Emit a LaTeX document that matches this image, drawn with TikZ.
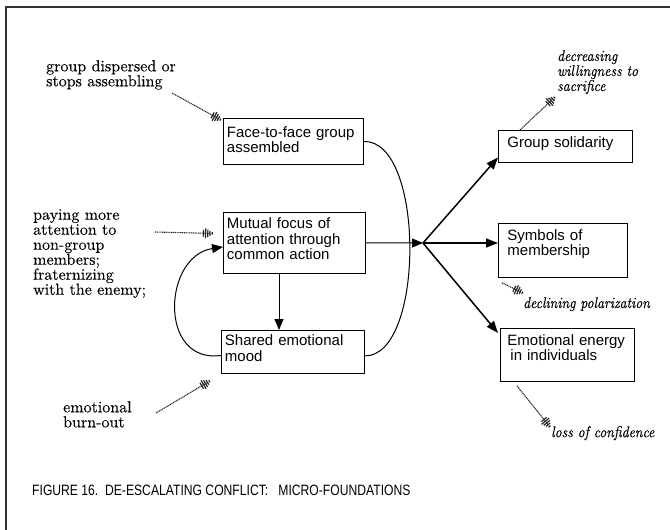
\documentclass[tikz,border=0pt]{standalone}
\usepackage{fontspec}
\setsansfont{Liberation Sans}
\newfontfamily\capfont[FakeStretch=0.81]{Liberation Sans}
\newfontfamily\notefont{lmroman10-regular.otf}[FakeBold=0.15]
\newfontfamily\inotefont{lmroman10-italic.otf}[FakeBold=0.15, FakeStretch=0.88]
\usetikzlibrary{arrows.meta}

% hatched arrow head used on the dotted "counter-force" arrows
\pgfdeclarearrow{
  name = Hatch,
  setup code = {
    \pgfarrowssettipend{0pt}
    \pgfarrowssetlineend{-3pt}
    \pgfarrowssetbackend{-11pt}
    \pgfarrowshullpoint{0pt}{0pt}
    \pgfarrowshullpoint{-11pt}{5.5pt}
    \pgfarrowshullpoint{-11pt}{-5.5pt}
  },
  drawing code = {
    \pgfsetdash{}{0pt}
    \pgfsetbuttcap
    \pgfsetlinewidth{1.2pt}
    \pgfpathmoveto{\pgfqpoint{-0.8pt}{-1.2pt}}\pgfpathlineto{\pgfqpoint{-0.8pt}{1.2pt}}
    \pgfpathmoveto{\pgfqpoint{-3.0pt}{-2.6pt}}\pgfpathlineto{\pgfqpoint{-3.0pt}{2.6pt}}
    \pgfpathmoveto{\pgfqpoint{-5.2pt}{-3.9pt}}\pgfpathlineto{\pgfqpoint{-5.2pt}{3.9pt}}
    \pgfpathmoveto{\pgfqpoint{-7.4pt}{-5.0pt}}\pgfpathlineto{\pgfqpoint{-7.4pt}{5.0pt}}
    \pgfpathmoveto{\pgfqpoint{-9.6pt}{-3.4pt}}\pgfpathlineto{\pgfqpoint{-9.6pt}{3.4pt}}
    \pgfusepathqstroke
  }
}

\begin{document}
\begin{tikzpicture}[x=1pt,y=-1pt,
  box/.style={draw, line width=0.9pt, anchor=north west, inner ysep=0pt,
    align=left, font=\sffamily\fontsize{15}{15.5}\selectfont},
  note/.style={anchor=north west, inner sep=0pt, align=left,
    font=\notefont\fontsize{16}{15}\selectfont},
  inote/.style={note, font=\inotefont\fontsize{15.5}{15}\selectfont},
  flow/.style={line width=1pt, -{Triangle[length=11pt,width=9pt]}},
  outarrow/.style={line width=1.5pt, -{Triangle[length=12pt,width=9pt]}},
  damp/.style={line width=1.1pt, black!85, dash pattern=on 1.1pt off 0.7pt, -{Hatch}},
  thinline/.style={line width=1pt}
]
\useasboundingbox (0,0) rectangle (670,530);

% frame
\draw[line width=1.2pt, black!80] (6,530) -- (6,7) -- (670,7);

% core process boxes
\node[box, inner xsep=3.5pt, text width=133pt, text height=19pt, text depth=27pt]
  (ff) at (223,118) {Face-to-face group\\assembled};
\node[box, inner xsep=3.5pt, text width=135pt, text height=16.5pt, text depth=44.5pt]
  (mf) at (223,212) {Mutual focus of\\attention through\\common action};
\node[box, inner xsep=3.5pt, text width=136pt, text height=15.5pt, text depth=27.5pt]
  (sm) at (221,330) {Shared emotional\\mood};

% outcome boxes
\node[box, inner xsep=9pt, text width=116pt, text height=17pt, text depth=15pt]
  (gs) at (498,130) {Group solidarity};
\node[box, inner xsep=9pt, text width=111pt, text height=17pt, text depth=37pt]
  (sy) at (498,223) {Symbols of\\membership};
\node[box, inner xsep=7pt, text width=120pt, text height=17pt, text depth=36pt]
  (ee) at (500,328) {Emotional energy\\\hspace*{3pt}in individuals};

% junction
\coordinate (J) at (423,243);

% process connectors
\draw[flow] ([xshift=56pt]mf.south west) -- ([xshift=58pt]sm.north west);
\draw[flow] ([yshift=-3.5pt]sm.west) .. controls (158,364) and (163,256) .. ([yshift=-4pt]mf.west);
\draw[thinline] (ff.east) .. controls (425,140) and (425,356) .. ([yshift=-4pt]sm.east);
\draw[flow] (mf.east) -- (J);

% outcomes
\draw[outarrow] (J) -- ([yshift=-11pt]gs.west);
\draw[outarrow] (J) -- (J -| sy.west);
\draw[outarrow] (J) -- ([xshift=-2pt,yshift=-5pt]ee.north west);

% counter-forces
\node[note] (gd) at (46,60) {group dispersed or\\stops assembling};
\node[note] (pa) at (33,209) {paying more\\attention to\\non-group\\members;\\fraternizing\\with the enemy;};
\node[note] (eb) at (63,401) {emotional\\burn-out};
\node[inote] (dw) at (557,50) {decreasing\\willingness to\\sacrifice};
\node[inote] (dp) at (523,297) {declining polarization};
\node[inote] (lc) at (551,426) {loss of confidence};

\coordinate (a1) at (172,93);
\coordinate (a2) at (155,232);
\coordinate (a3) at (156,413);
\coordinate (b1) at (555,97);
\coordinate (b2) at (523,293);
\coordinate (b3) at (550,427);

\draw[damp] (a1) -- ([xshift=-2pt,yshift=-2pt]ff.north west);
\draw[damp] (a2) -- ([xshift=-10pt,yshift=9.5pt]mf.west);
\draw[damp] (a3) -- ([xshift=-11pt,yshift=-7pt]sm.south west);
\draw[damp] ([xshift=22pt]gs.north west) -- (b1);
\draw[damp] ([xshift=4pt,yshift=-5pt]sy.south west) -- (b2);
\draw[damp] ([xshift=17pt,yshift=-4pt]ee.south west) -- (b3);

% caption
\node[anchor=west, inner sep=0pt, font=\capfont\fontsize{15}{15}\selectfont]
  (cap) at (32,490) {FIGURE 16.\ \ DE-ESCALATING CONFLICT:\ \ \ MICRO-FOUNDATIONS};
\end{tikzpicture}
\end{document}
